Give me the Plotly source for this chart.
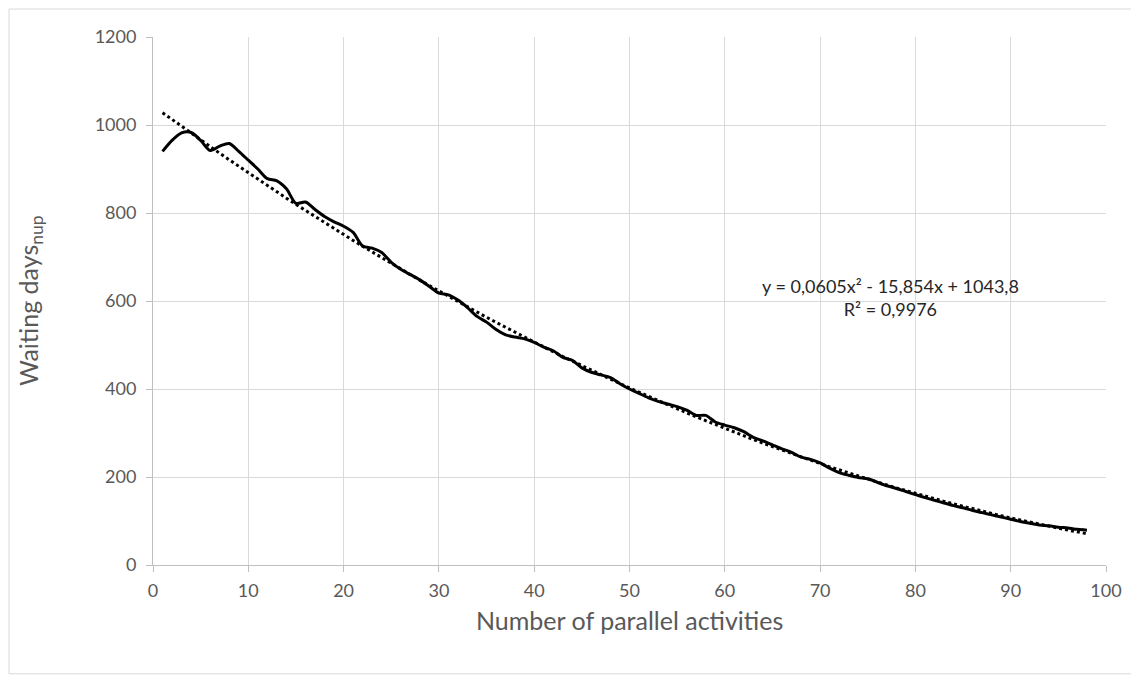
import plotly.graph_objects as go

# ---- data ----
activities = list(range(1, 99))
waiting_days = [
    940, 965, 982, 983, 965, 942, 952, 958, 940, 920,
    900, 878, 873, 855, 822, 825, 808, 792, 780, 770,
    756, 725, 720, 710, 688, 672, 660, 648, 633, 618,
    614, 602, 585, 565, 552, 535, 523, 518, 514, 506,
    495, 487, 472, 465, 448, 438, 432, 426, 412, 400,
    390, 380, 372, 366, 360, 352, 340, 340, 325, 318,
    312, 303, 290, 282, 273, 264, 256, 245, 240, 232,
    220, 210, 204, 199, 196, 188, 180, 174, 167, 160,
    153, 147, 141, 135, 130, 124, 119, 114, 109, 104,
    99, 95, 91, 89, 86, 84, 81, 79,
]
# polynomial trendline coefficients as printed on the chart (a, b, c)
trend_coeffs = [0.0605, -15.854, 1043.8]
trend_label = "y = 0,0605x² - 15,854x + 1043,8<br>R² = 0,9976"
x_title = "Number of parallel activities"
y_title = "Waiting days<sub>nup</sub>"
x_ticks = [0, 10, 20, 30, 40, 50, 60, 70, 80, 90, 100]
y_ticks = [0, 200, 400, 600, 800, 1000, 1200]

trend_vals = [trend_coeffs[0] * x * x + trend_coeffs[1] * x + trend_coeffs[2] for x in activities]

FONT = "Lato"
GREY = "#595959"

fig = go.Figure()
fig.add_trace(go.Scatter(
    x=activities, y=trend_vals, mode="lines",
    line=dict(color="black", width=3, dash="dot"),
    showlegend=False, hoverinfo="skip",
))
fig.add_trace(go.Scatter(
    x=activities, y=waiting_days, mode="lines",
    line=dict(color="black", width=3, shape="spline", smoothing=0.8),
    showlegend=False,
))

fig.add_annotation(
    x=77.4, y=609, xref="x", yref="y", text=trend_label, showarrow=False,
    font=dict(family=FONT, size=18, color="#262626"), align="center",
)

# axis titles
fig.add_annotation(
    x=-0.129, y=0.5, xref="paper", yref="paper", text=y_title, showarrow=False,
    textangle=-90, xanchor="center", yanchor="middle",
    font=dict(family=FONT, size=25, color=GREY),
)
fig.add_annotation(
    x=0.5, y=-0.104, xref="paper", yref="paper", text=x_title, showarrow=False,
    xanchor="center", yanchor="middle",
    font=dict(family=FONT, size=25, color=GREY),
)

# outer chart border
fig.add_shape(type="rect", xref="paper", yref="paper",
              x0=-0.1511, x1=1.028, y0=-0.206, y1=1.053,
              line=dict(color="#d9d9d9", width=1), layer="below")

fig.update_layout(
    width=1139, height=679,
    margin=dict(l=145, r=41, t=29, b=122),
    paper_bgcolor="white", plot_bgcolor="white",
    font=dict(family=FONT, size=18, color=GREY),
    xaxis=dict(
        range=[0, 100], tickvals=x_ticks, showgrid=True, gridcolor="#d9d9d9", gridwidth=1,
        showline=True, linecolor="#bfbfbf", linewidth=1, zeroline=False,
        ticks="outside", ticklen=6, tickcolor="#bfbfbf", ticklabelstandoff=3,
        tickfont=dict(family=FONT, size=18, color=GREY),
    ),
    yaxis=dict(
        range=[0, 1200], tickvals=y_ticks, showgrid=True, gridcolor="#d9d9d9", gridwidth=1,
        showline=True, linecolor="#bfbfbf", linewidth=1, zeroline=False,
        ticks="outside", ticklen=6, tickcolor="#bfbfbf", ticklabelstandoff=6,
        tickfont=dict(family=FONT, size=18, color=GREY),
    ),
)

fig.write_html("out.html")
